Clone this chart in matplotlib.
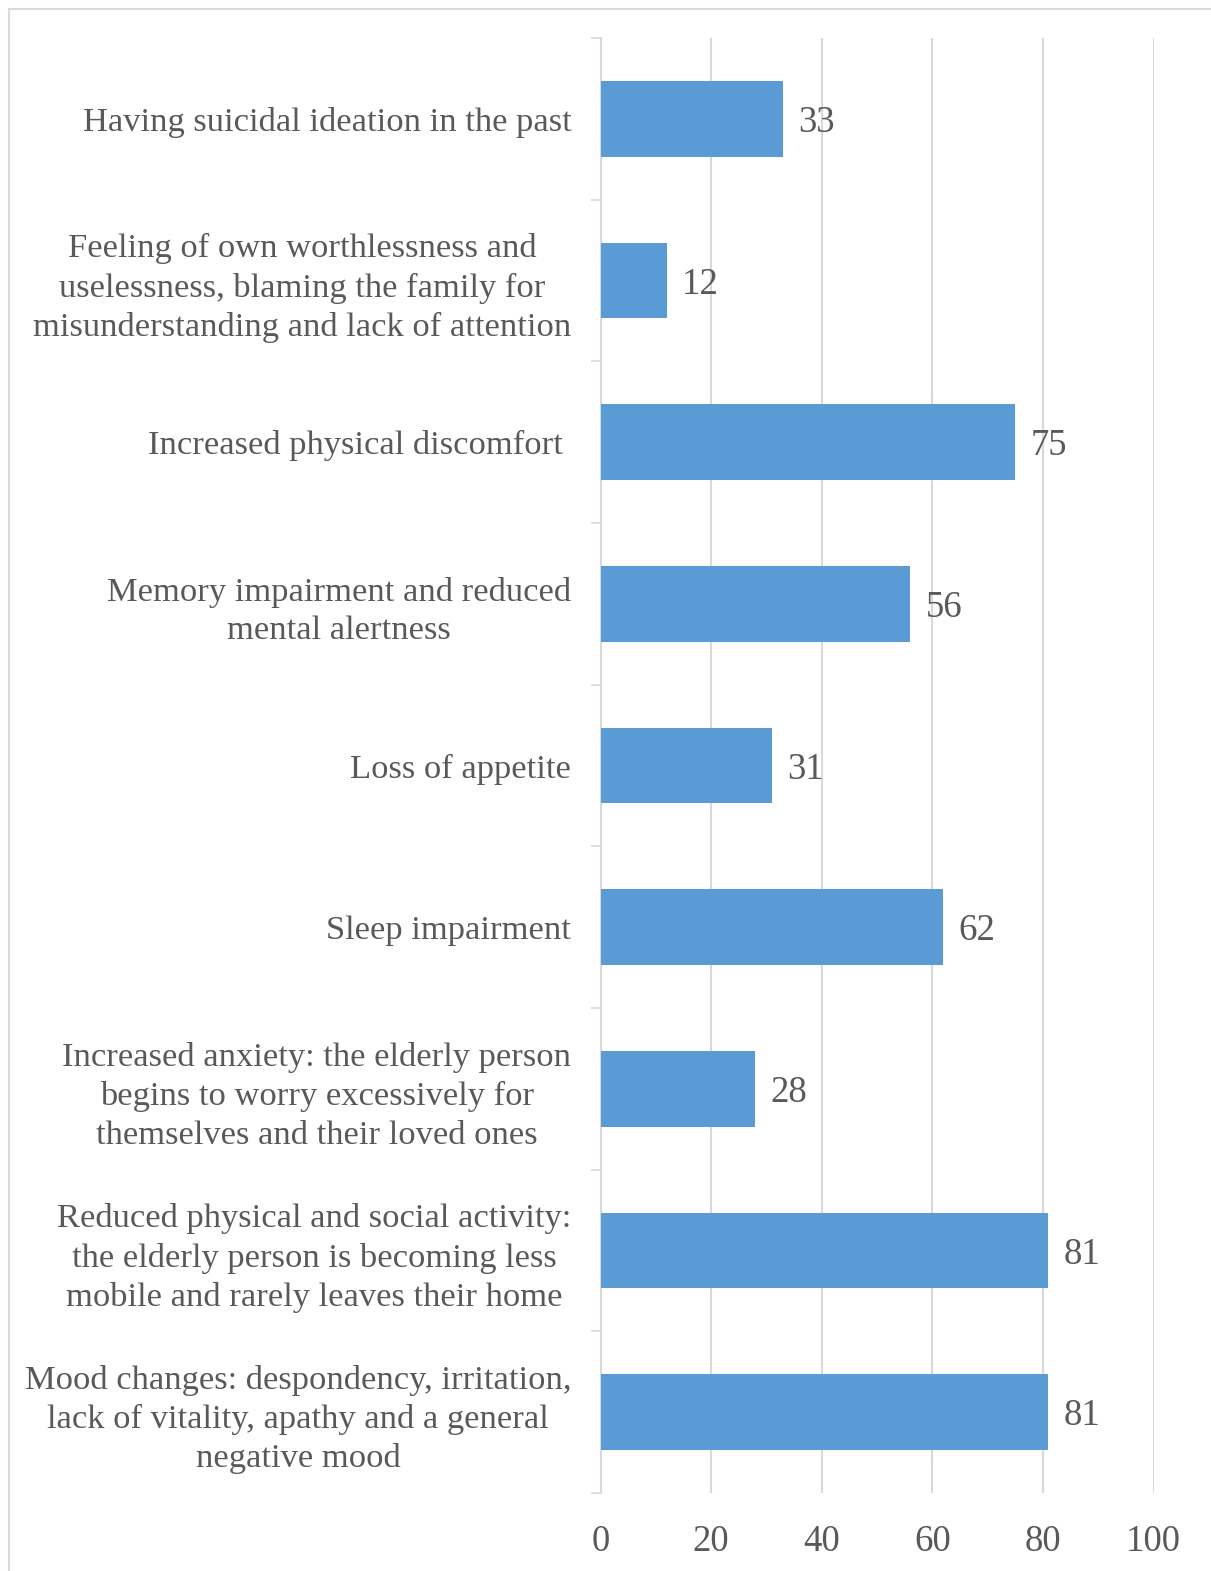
#!/usr/bin/env python3
"""Horizontal bar chart: signs of depression noticed in the elderly."""
import matplotlib
matplotlib.use("Agg")
import matplotlib.pyplot as plt
from matplotlib.lines import Line2D
import numpy as np

categories = [
    "Having suicidal ideation in the past",
    "Feeling of own worthlessness and\nuselessness, blaming the family for\nmisunderstanding and lack of attention",
    "Increased physical discomfort ",
    "Memory impairment and reduced\nmental alertness",
    "Loss of appetite",
    "Sleep impairment",
    "Increased anxiety: the elderly person\nbegins to worry excessively for\nthemselves and their loved ones",
    "Reduced physical and social activity:\nthe elderly person is becoming less\nmobile and rarely leaves their home",
    "Mood changes: despondency, irritation,\nlack of vitality, apathy and a general\nnegative mood",
]
values = [33, 12, 75, 56, 31, 62, 28, 81, 81]
x_ticks = [0, 20, 40, 60, 80, 100]

BAR = "#5B9BD5"
TXT = "#595959"
GRID = "#D9D9D9"

plt.rcParams["font.family"] = ["Liberation Serif", "DejaVu Serif"]

W, H = 1211, 1571
fig = plt.figure(figsize=(W / 100, H / 100), dpi=100)
ax = fig.add_axes([600.5 / W, 1 - 1493 / H, 553 / W, 1455 / H])

n = len(categories)
ypos = np.arange(n)
ax.barh(ypos, values, height=0.47, color=BAR, zorder=3)
ax.set_ylim(n - 0.5, -0.5)
ax.set_xlim(0, 100)

for y, v in zip(ypos, values):
    ax.annotate(f"{v}", (v, y), textcoords="offset points", xytext=(11, 0),
                ha="left", va="center_baseline", fontsize=26.5, color=TXT, zorder=4)

ax.set_xticks(x_ticks)
ax.set_xticklabels([str(t) for t in x_ticks])
ax.set_yticks(ypos)
ax.set_yticklabels(categories, multialignment="center", linespacing=1.34)
ax.set_yticks(np.arange(n + 1) - 0.5, minor=True)

ax.tick_params(axis="x", length=0, pad=23, labelsize=26.5, labelcolor=TXT)
ax.tick_params(axis="y", which="major", length=0, pad=21, labelsize=24.8, labelcolor=TXT)
ax.tick_params(axis="y", which="minor", length=7, width=1.2, color=GRID, direction="out")

ax.grid(axis="x", color=GRID, lw=1.5, zorder=0)
ax.set_axisbelow(True)
for s in ["top", "right", "bottom"]:
    ax.spines[s].set_visible(False)
ax.spines["left"].set_color(GRID)
ax.spines["left"].set_linewidth(1.5)

# outer chart border (right and bottom fall outside the picture)
fig.add_artist(Line2D([8.5 / W, 8.5 / W], [0, 1 - 9 / H], transform=fig.transFigure,
                      color=GRID, lw=1.5))
fig.add_artist(Line2D([8.5 / W, 1], [1 - 9 / H, 1 - 9 / H], transform=fig.transFigure,
                      color=GRID, lw=1.5))

fig.savefig("out.png", dpi=100, facecolor="white")
